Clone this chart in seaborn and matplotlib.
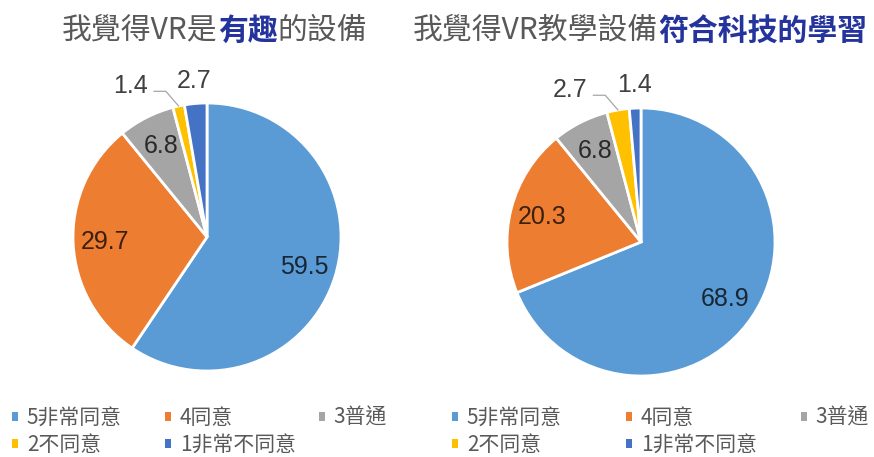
import numpy as np
import matplotlib
matplotlib.use("Agg")
import matplotlib.pyplot as plt
from matplotlib.patches import Patch
import seaborn as sns

# ---------------- data ----------------
categories = ["5非常同意", "4同意", "3普通", "2不同意", "1非常不同意"]
pie1_values = [59.5, 29.7, 6.8, 1.4, 2.7]
pie2_values = [68.9, 20.3, 6.8, 2.7, 1.4]
pie1_title = [("我覺得VR是", False), ("有趣", True), ("的設備", False)]
pie2_title = [("我覺得VR教學設備", False), ("符合科技的學習", True)]
# label style per slice: 'in' inside, 'out' outside above, 'lead' outside with leader
pie1_label_style = ["in", "in", "in", "lead", "out"]
pie2_label_style = ["in", "in", "in", "lead", "out"]

colors = ["#5B9BD5", "#ED7D31", "#A5A5A5", "#FFC000", "#4472C4"]

sns.set_theme(style="white")
plt.rcParams["font.family"] = ["Noto Sans CJK TC", "DejaVu Sans"]

W, H = 874, 457
fig = plt.figure(figsize=(W / 100, H / 100), dpi=100)
fig.patch.set_facecolor("white")

TEXT_GRAY = "#595959"
TITLE_BLUE = "#24349C"
LABEL_FONT = ["Liberation Sans", "DejaVu Sans"]


def make_axes(cx, cy, r):
    ax = fig.add_axes([(cx - r) / W, (H - cy - r) / H, 2 * r / W, 2 * r / H])
    return ax


def draw_pie(ax, values, styles):
    wedges, _ = ax.pie(values, colors=colors, startangle=90, counterclock=False,
                       radius=1.0, center=(0, 0),
                       wedgeprops=dict(edgecolor="white", linewidth=2.0))
    ax.set_xlim(-1, 1)
    ax.set_ylim(-1, 1)
    ax.set_aspect("equal")
    ax.axis("off")
    for w, v, st in zip(wedges, values, styles):
        mid = np.deg2rad((w.theta1 + w.theta2) / 2)
        c, s = np.cos(mid), np.sin(mid)
        txt = f"{v:.1f}"
        kw = dict(fontsize=18, color="black", alpha=0.75, family=LABEL_FONT,
                  clip_on=False)
        if st == "in":
            ax.text(0.76 * c, 0.76 * s, txt, ha="center", va="center", **kw)
        elif st == "out":
            ax.text(1.17 * c, 1.17 * s, txt, ha="center", va="center", **kw)
        else:
            p0 = np.array([c, s])
            p1 = p0 + np.array([-0.095, 0.11])
            p2 = p1 + np.array([-0.09, 0.0])
            ax.plot([p0[0], p1[0], p2[0]], [p0[1], p1[1], p2[1]],
                    color="#A6A6A6", lw=0.9, clip_on=False)
            ax.text(p2[0] - 0.045, p1[1] + 0.04, txt, ha="right", va="center", **kw)
    return wedges


def draw_title(ax, parts, x, y):
    prev = None
    for text, bold in parts:
        kw = dict(fontsize=21.5, color=TITLE_BLUE if bold else TEXT_GRAY,
                  fontweight="bold" if bold else "normal",
                  family=["Noto Sans CJK TC", "DejaVu Sans"])
        if prev is None:
            prev = fig.text(x / W, 1 - y / H, text, ha="left", va="center", **kw)
        else:
            prev = ax.annotate(text, xy=(1, 0), xycoords=prev, ha="left",
                               va="bottom", annotation_clip=False, **kw)


def draw_legend(xs, y):
    cols = [[0, 3], [1, 4], [2]]
    for x, col in zip(xs, cols):
        handles = [Patch(facecolor=colors[i], edgecolor="none") for i in col]
        labels = [categories[i] for i in col]
        leg = fig.legend(handles, labels, loc="upper left",
                         bbox_to_anchor=(x / W, 1 - y / H),
                         frameon=False, fontsize=15, handlelength=0.28,
                         handleheight=0.28, handletextpad=0.43,
                         labelspacing=0.22, borderpad=0, borderaxespad=0)
        for t in leg.get_texts():
            t.set_color(TEXT_GRAY)


ax1 = make_axes(207, 237, 134)
ax2 = make_axes(641, 242, 134)
draw_pie(ax1, pie1_values, pie1_label_style)
draw_pie(ax2, pie2_values, pie2_label_style)

draw_title(ax1, pie1_title, 62, 30)
draw_title(ax2, pie2_title, 413, 30)

draw_legend([12, 165, 319], 407)
draw_legend([452, 626, 801], 407)

fig.savefig("out.png", dpi=100, facecolor="white")
